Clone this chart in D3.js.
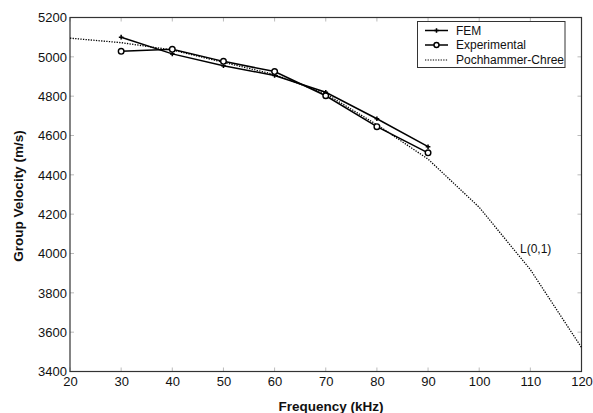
<!DOCTYPE html>
<html><head><meta charset="utf-8">
<script src="https://cdn.jsdelivr.net/npm/d3@7"></script>
<style>body{margin:0;background:#fff}svg{display:block;font-family:"Liberation Sans",Arial,sans-serif}</style>
</head><body>
<svg id="c" width="593" height="413"></svg>
<script>
const femFreq = [30,40,50,60,70,80,90];
const femVel  = [5100,5015,4955,4905,4820,4685,4543];
const expFreq = [30,40,50,60,70,80,90];
const expVel  = [5028,5038,4977,4925,4802,4645,4512];
const pcFreq  = [20,30,40,50,60,70,80,90,100,110,120];
const pcVel   = [5095,5072,5035,4972,4910,4812,4655,4480,4235,3918,3522];
const xTicks  = [20,30,40,50,60,70,80,90,100,110,120];
const yTicks  = [3400,3600,3800,4000,4200,4400,4600,4800,5000,5200];

const svg = d3.select("#c");
const L=70, R=581.5, T=17.5, B=371.5;
const x = d3.scaleLinear().domain([20,120]).range([L,R]);
const y = d3.scaleLinear().domain([3400,5200]).range([B,T]);

// inner ticks on all sides
const tk = svg.append("g").attr("stroke","#aaa").attr("stroke-width",0.8);
xTicks.forEach(t=>{
  tk.append("line").attr("x1",x(t)).attr("x2",x(t)).attr("y1",B).attr("y2",B-4);
  tk.append("line").attr("x1",x(t)).attr("x2",x(t)).attr("y1",T).attr("y2",T+4);
});
yTicks.forEach(t=>{
  tk.append("line").attr("x1",L).attr("x2",L+4).attr("y1",y(t)).attr("y2",y(t));
  tk.append("line").attr("x1",R).attr("x2",R-4).attr("y1",y(t)).attr("y2",y(t));
});
svg.append("rect").attr("x",L).attr("y",T).attr("width",R-L).attr("height",B-T)
  .attr("fill","none").attr("stroke","#333").attr("stroke-width",1.2);

// tick labels via axes
const xa = svg.append("g").attr("transform",`translate(0,${B})`)
  .call(d3.axisBottom(x).tickValues(xTicks).tickSize(0).tickPadding(5));
const ya = svg.append("g").attr("transform",`translate(${L},0)`)
  .call(d3.axisLeft(y).tickValues(yTicks).tickSize(0).tickPadding(3).tickFormat(d3.format("d")));
[xa,ya].forEach(a=>{a.select(".domain").remove();a.selectAll("text").attr("font-size",13).attr("fill","#111").attr("font-family","Liberation Sans, Arial, sans-serif");});

const line = d3.line().x(d=>x(d[0])).y(d=>y(d[1]));
const pc = pcFreq.map((f,i)=>[f,pcVel[i]]);
const fem = femFreq.map((f,i)=>[f,femVel[i]]);
const ex = expFreq.map((f,i)=>[f,expVel[i]]);

svg.append("path").datum(pc).attr("d",line).attr("fill","none").attr("stroke","#000")
  .attr("stroke-width",1.3).attr("stroke-dasharray","1.3,1.3");
svg.append("path").datum(fem).attr("d",line).attr("fill","none").attr("stroke","#000").attr("stroke-width",1.5);
svg.append("path").datum(ex).attr("d",line).attr("fill","none").attr("stroke","#000").attr("stroke-width",1.5);

const star = d3.symbol().type(d3.symbolCross).size(12);
svg.selectAll(".fm").data(fem).join("path").attr("transform",d=>`translate(${x(d[0])},${y(d[1])})`)
  .attr("d",star).attr("fill","#000");
svg.selectAll(".em").data(ex).join("circle").attr("cx",d=>x(d[0])).attr("cy",d=>y(d[1]))
  .attr("r",2.8).attr("fill","#fff").attr("stroke","#000").attr("stroke-width",1.4);

svg.append("text").attr("x",520).attr("y",252.5).attr("font-size",12).attr("fill","#111").text("L(0,1)");

// legend
const lg = svg.append("g");
lg.append("rect").attr("x",417.5).attr("y",21.5).attr("width",147.5).attr("height",46)
  .attr("fill","#fff").attr("stroke","#333").attr("stroke-width",1);
const rows = [30.5,45,60];
lg.append("line").attr("x1",425).attr("x2",448).attr("y1",rows[0]).attr("y2",rows[0]).attr("stroke","#000").attr("stroke-width",1.5);
lg.append("path").attr("transform",`translate(436.5,${rows[0]})`).attr("d",star).attr("fill","#000");
lg.append("line").attr("x1",425).attr("x2",448).attr("y1",rows[1]).attr("y2",rows[1]).attr("stroke","#000").attr("stroke-width",1.5);
lg.append("circle").attr("cx",436.5).attr("cy",rows[1]).attr("r",2.5).attr("fill","#fff").attr("stroke","#000").attr("stroke-width",1.4);
lg.append("line").attr("x1",425).attr("x2",448).attr("y1",rows[2]).attr("y2",rows[2]).attr("stroke","#000").attr("stroke-width",1.2).attr("stroke-dasharray","1.3,1.3");
["FEM","Experimental","Pochhammer-Chree"].forEach((t,i)=>{
  lg.append("text").attr("x",456).attr("y",rows[i]+4.3).attr("font-size",12).attr("fill","#111").text(t);
});

svg.append("text").attr("x",331).attr("y",411).attr("text-anchor","middle").attr("font-size",13.5)
  .attr("font-weight","bold").attr("fill","#111").text("Frequency (kHz)");
svg.append("text").attr("transform","translate(23,196) rotate(-90)").attr("text-anchor","middle").attr("font-size",13.5)
  .attr("font-weight","bold").attr("fill","#111").text("Group Velocity (m/s)");
</script>
</body></html>
